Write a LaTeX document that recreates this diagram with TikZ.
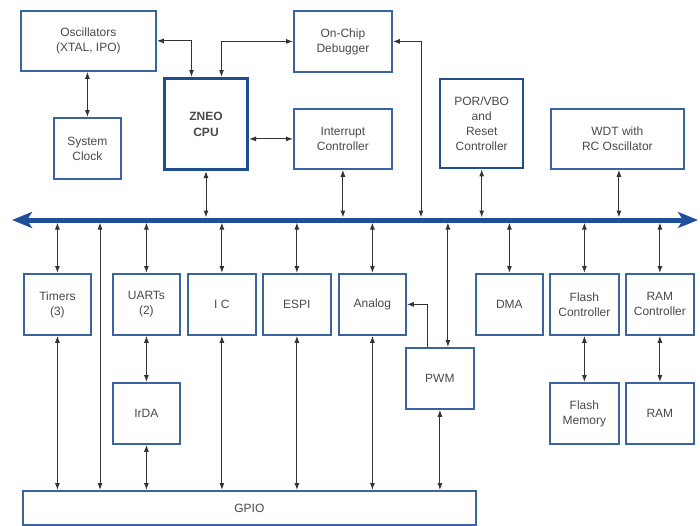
\documentclass[tikz,border=0pt]{standalone}
\usepackage{fontspec}
\setmainfont{Liberation Sans}
\usetikzlibrary{arrows.meta,calc}
\definecolor{boxblue}{HTML}{3A64A0}
\definecolor{cpublue}{HTML}{1F4E8F}
\definecolor{busblue}{HTML}{1F4E9A}
\definecolor{txtgray}{HTML}{4A4A4A}
\definecolor{linegray}{HTML}{333333}
\begin{document}
\begin{tikzpicture}[x=1pt,y=-1pt,
  box/.style={draw=boxblue,line width=1.8pt,fill=white,inner sep=1pt,
    text=txtgray,align=center,font=\fontsize{12}{15}\selectfont,anchor=north west},
  conn/.style={draw=linegray,line width=1pt,{Latex[length=7pt,width=5pt]}-{Latex[length=7pt,width=5pt]}},
  connone/.style={draw=linegray,line width=1pt,-{Latex[length=7pt,width=5pt]}},
  bus/.style={draw=busblue,line width=5pt,{Stealth[length=20pt,width=16pt,inset=5pt]}-{Stealth[length=20pt,width=16pt,inset=5pt]}}
]
\useasboundingbox (0,0) rectangle (700,525);
\fill[white] (0,0) rectangle (700,525);

% top boxes
\node[box,minimum width=135pt,minimum height=60pt] (osc) at (20,10) {Oscillators\\(XTAL, IPO)};
\node[box,minimum width=67pt,minimum height=61pt] (clk) at (53,117) {System\\Clock};
\node[box,draw=cpublue,line width=3pt,minimum width=83pt,minimum height=91pt,font=\fontsize{12}{16}\selectfont\bfseries] (cpu) at (163,77) {ZNEO\\CPU};
\node[box,minimum width=98pt,minimum height=61pt] (dbg) at (293,10) {On-Chip\\Debugger};
\node[box,minimum width=98pt,minimum height=60pt] (irq) at (293,108) {Interrupt\\Controller};
\node[box,draw=cpublue,line width=2.4pt,minimum width=83pt,minimum height=89pt] (por) at (439,78) {POR/VBO\\and\\Reset\\Controller};
\node[box,minimum width=133pt,minimum height=60pt] (wdt) at (550,108) {WDT with\\RC Oscillator};

% bus
\coordinate (busL) at (12,220);
\coordinate (busR) at (698,220);
\coordinate (busT) at (0,217.5);
\coordinate (busB) at (0,222.5);
\draw[bus] (busL) -- (busR);

% lower boxes
\node[box,minimum width=67pt,minimum height=61pt] (tim) at (23,273) {Timers\\(3)};
\node[box,minimum width=67pt,minimum height=61pt] (uart) at (112,273) {UARTs\\(2)};
\node[box,minimum width=68pt,minimum height=61pt] (iic) at (187,273) {I C};
\node[box,minimum width=68pt,minimum height=61pt] (espi) at (262,273) {ESPI};
\node[box,minimum width=67pt,minimum height=61pt] (ana) at (338,273) {Analog};
\node[box,minimum width=67pt,minimum height=61pt] (dma) at (475,273) {DMA};
\node[box,minimum width=69pt,minimum height=61pt] (fctl) at (549,273) {Flash\\Controller};
\node[box,minimum width=68pt,minimum height=61pt] (rctl) at (625,273) {RAM\\Controller};
\node[box,minimum width=67pt,minimum height=61pt] (irda) at (112,382) {IrDA};
\node[box,minimum width=68pt,minimum height=61pt] (pwm) at (405,347) {PWM};
\node[box,minimum width=69pt,minimum height=61pt] (fmem) at (549,382) {Flash\\Memory};
\node[box,minimum width=68pt,minimum height=61pt] (ram) at (625,382) {RAM};
\node[box,minimum width=453pt,minimum height=34pt] (gpio) at (22,490) {GPIO};

% top connectors
\draw[conn] (clk.north |- osc.south) -- (clk.north);
\draw[conn] (osc.east) -| ([xshift=-14.5pt]cpu.north);
\draw[conn] (dbg.west) -| ([xshift=15.5pt]cpu.north);
\draw[conn] (cpu.east |- irq.west) -- (irq.west);
\coordinate (dbgbus) at (421,217.5);
\draw[conn] (dbg.east) -| (dbgbus);
\draw[conn] (cpu.south) -- (cpu.south |- busT);
\draw[conn] (irq.south) -- (irq.south |- busT);
\draw[conn] (por.south) -- (por.south |- busT);
\draw[conn] ([xshift=1.5pt]wdt.south) -- ([xshift=1.5pt]wdt.south |- busT);

% bus to lower
\draw[conn] (tim.north) -- (tim.north |- busB);
\draw[conn] (uart.north) -- (uart.north |- busB);
\draw[conn] (iic.north) -- (iic.north |- busB);
\draw[conn] (espi.north) -- (espi.north |- busB);
\draw[conn] (ana.north) -- (ana.north |- busB);
\draw[conn] (dma.north) -- (dma.north |- busB);
\draw[conn] (fctl.north) -- (fctl.north |- busB);
\draw[conn] (rctl.north) -- (rctl.north |- busB);
\coordinate (gpbus) at (100,222.5);
\draw[conn] (gpbus) -- (gpbus |- gpio.north);
\draw[conn] ([xshift=8pt]pwm.north) -- ([xshift=8pt]pwm.north |- busB);
\draw[connone] ([xshift=-12pt]pwm.north) |- (ana.east);

% lower to GPIO / memories
\draw[conn] (tim.south) -- (tim.south |- gpio.north);
\draw[conn] (uart.south) -- (irda.north);
\draw[conn] (irda.south) -- (irda.south |- gpio.north);
\draw[conn] (iic.south) -- (iic.south |- gpio.north);
\draw[conn] (espi.south) -- (espi.south |- gpio.north);
\draw[conn] (ana.south) -- (ana.south |- gpio.north);
\draw[conn] (pwm.south) -- (pwm.south |- gpio.north);
\draw[conn] (fctl.south) -- (fmem.north);
\draw[conn] (rctl.south) -- (ram.north);
\end{tikzpicture}
\end{document}
